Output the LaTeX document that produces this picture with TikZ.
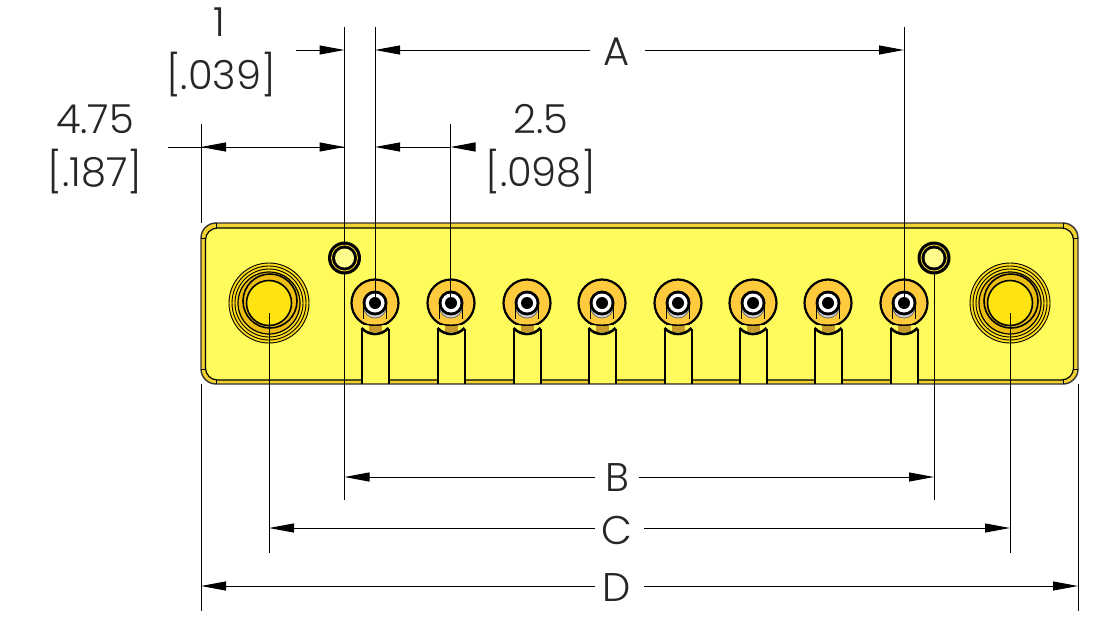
\documentclass[tikz,border=0pt]{standalone}
\usepackage{fontspec}
\setmainfont{Poppins}[UprightFont=* Light]
\usetikzlibrary{arrows.meta}
\definecolor{platecol}{HTML}{FFFB5C}
\definecolor{bandcol}{HTML}{F2D22E}
\definecolor{ringcol}{HTML}{FFDD1E}
\definecolor{ringdark}{HTML}{EDBE12}
\definecolor{studcol}{HTML}{FFE412}
\definecolor{lugcol}{HTML}{FFCB3C}
\definecolor{nutcol}{HTML}{C79A2A}
\tikzset{
 dimline/.style={black, line width=1pt},
 dimtip/.style={-{Triangle[length=25pt,width=9pt]}},
 extline/.style={black, line width=1pt},
 dimlabel/.style={font=\fontsize{40}{40}\selectfont, inner sep=0pt, text=black!85},
 edgeline/.style={black, line width=2pt}
}
% one screw terminal, centre given by the x value
\newcommand{\terminal}[1]{
\fill[platecol] (#1-13.5,330) rectangle (#1+13.5,383);
\draw[edgeline] (#1-13.5,329) -- (#1-13.5,384);
\draw[edgeline] (#1+13.5,329) -- (#1+13.5,384);
\fill[lugcol] (#1,303) circle (23.5);
\draw[black, line width=2.2pt] (#1,303) circle (23.5);
\fill[platecol] (#1-13.5,325) -- (#1+13.5,325) -- (#1+13.5,329) .. controls (#1+6,336) and (#1-6,336) .. (#1-13.5,329) -- cycle;
\fill[nutcol] (#1-6.5,323.5) rectangle (#1+6.5,331.5);
\draw[black, line width=1.4pt] (#1-13,323) .. controls (#1-6,326) and (#1+6,326) .. (#1+13,323);
\draw[black, line width=2.6pt] (#1-13.5,328) .. controls (#1-6,336) and (#1+6,336) .. (#1+13.5,328);
\fill[black!15] (#1,306.5) circle (11.5);
\draw[black!60, line width=.8pt] (#1,306.5) circle (11.5);
\draw[black, line width=1.8pt] (#1-11.5,303) -- (#1-11.5,319);
\draw[black, line width=1.8pt] (#1+11.5,303) -- (#1+11.5,319);
\fill[black] (#1,303) circle (12.5);
\fill[white] (#1,303) circle (9.5);
\fill[black] (#1,303) circle (6);
}
% round stud at the plate ends
\newcommand{\stud}[1]{
\fill[ringcol] (#1,303) circle (40);
\draw[black, line width=.9pt] (#1,303) circle (40);
\draw[black, line width=.9pt] (#1,303) circle (37);
\draw[black, line width=.9pt] (#1,303) circle (34);
\fill[ringdark] (#1,303) circle (31);
\draw[black, line width=1.2pt] (#1,303) circle (31);
\draw[black, line width=1.6pt] (#1+1,301) circle (27);
\fill[studcol] (#1,303) circle (22.5);
\draw[black, line width=1.6pt] (#1,303) circle (22.5);
}
\newcommand{\pinhole}[1]{
\fill[black] (#1,258) circle (16.5);
\draw[ringcol, line width=.8pt] (#1,258) circle (13);
\fill[white!30!platecol] (#1,258) circle (9.5);
}
\begin{document}
\begin{tikzpicture}[x=1pt,y=-1pt]
\useasboundingbox (0,0) rectangle (1100,621);

\fill[bandcol, rounded corners=15pt] (201,223) rectangle (1078,384);
\draw[black!80, line width=1.4pt, rounded corners=15pt] (201,223) rectangle (1078,384);
\fill[platecol, rounded corners=12pt] (205.5,228) rectangle (1073.5,380);
\draw[black, line width=1.2pt, rounded corners=12pt] (205.5,228) rectangle (1073.5,380);
\draw[black, line width=1pt] (216,223) -- (216,228);
\draw[black, line width=1pt] (1063,223) -- (1063,228);
\draw[black, line width=1pt] (216,380) -- (216,384);
\draw[black, line width=1pt] (1063,380) -- (1063,384);
\draw[black, line width=1pt] (201,238) -- (205.5,238);
\draw[black, line width=1pt] (1073.5,238) -- (1078,238);
\draw[black, line width=1pt] (201,369) -- (205.5,369);
\draw[black, line width=1pt] (1073.5,369) -- (1078,369);

\stud{269}
\stud{1010}
\pinhole{344.5}
\pinhole{934}
\terminal{375}
\terminal{451}
\terminal{527}
\terminal{602}
\terminal{678}
\terminal{753}
\terminal{828}
\terminal{904}

\coordinate (holeLeftTop) at (344.5,27);
\coordinate (holeLeftIn) at (344.5,245);
\coordinate (holeLeftOut) at (344.5,272);
\coordinate (holeLeftEnd) at (344.5,500);
\coordinate (holeRightOut) at (934,272);
\coordinate (holeRightEnd) at (934,500);
\coordinate (termOneTop) at (375,27);
\coordinate (termOneIn) at (375,303);
\coordinate (termTwoTop) at (450.5,124);
\coordinate (termTwoIn) at (450.5,303);
\coordinate (termEndTop) at (904,27);
\coordinate (termEndIn) at (904,303);
\coordinate (plateLeftTop) at (201,124);
\coordinate (plateLeftIn) at (201,223);
\coordinate (plateLeftOut) at (201,384);
\coordinate (plateLeftEnd) at (201,611);
\coordinate (plateRightOut) at (1078,384);
\coordinate (plateRightEnd) at (1078,611);
\coordinate (studLeftIn) at (269,313);
\coordinate (studLeftEnd) at (269,553);
\coordinate (studRightIn) at (1010,313);
\coordinate (studRightEnd) at (1010,553);

\draw[extline] (holeLeftTop) -- (holeLeftIn);
\draw[extline] (holeLeftOut) -- (holeLeftEnd);
\draw[extline] (holeRightOut) -- (holeRightEnd);
\draw[extline] (termOneTop) -- (termOneIn);
\draw[extline] (termTwoTop) -- (termTwoIn);
\draw[extline] (termEndTop) -- (termEndIn);
\draw[extline] (plateLeftTop) -- (plateLeftIn);
\draw[extline] (plateLeftOut) -- (plateLeftEnd);
\draw[extline] (plateRightOut) -- (plateRightEnd);
\draw[extline] (studLeftIn) -- (studLeftEnd);
\draw[extline] (studRightIn) -- (studRightEnd);

\node[dimlabel] (labelOne) at (219,22) {1};
\node[dimlabel] (labelOneIn) at (221,75) {[.039]};
\node[dimlabel] (labelFour) at (95,119) {4.75};
\node[dimlabel] (labelFourIn) at (95,172) {[.187]};
\node[dimlabel] (labelTwo) at (541,119) {2.5};
\node[dimlabel] (labelTwoIn) at (541,172) {[.098]};
\node[dimlabel] (labelA) at (617,52) {A};
\node[dimlabel] (labelB) at (617,478) {B};
\node[dimlabel] (labelC) at (617,530) {C};
\node[dimlabel] (labelD) at (617,588) {D};

\coordinate (oneStart) at (296,50);
\coordinate (oneTip) at (344.5,50);
\coordinate (aLeftTip) at (375,50);
\coordinate (aLeftEnd) at (590,50);
\coordinate (aRightEnd) at (645,50);
\coordinate (aRightTip) at (904,50);
\coordinate (fourStart) at (168,147);
\coordinate (fourTip) at (201,147);
\coordinate (fourEnd) at (344.5,147);
\coordinate (twoTip) at (375,147);
\coordinate (twoEnd) at (450.5,147);
\coordinate (twoStart) at (468,147);
\coordinate (bLeftTip) at (344.5,477);
\coordinate (bLeftEnd) at (595,477);
\coordinate (bRightEnd) at (639,477);
\coordinate (bRightTip) at (934,477);
\coordinate (cLeftTip) at (269,528);
\coordinate (cLeftEnd) at (595,528);
\coordinate (cRightEnd) at (644,528);
\coordinate (cRightTip) at (1010,528);
\coordinate (dLeftTip) at (201,586);
\coordinate (dLeftEnd) at (595,586);
\coordinate (dRightEnd) at (644,586);
\coordinate (dRightTip) at (1078,586);

\draw[dimline, dimtip] (oneStart) -- (oneTip);
\draw[dimline, dimtip] (aLeftEnd) -- (aLeftTip);
\draw[dimline, dimtip] (aRightEnd) -- (aRightTip);
\draw[dimline] (fourStart) -- (fourTip);
\draw[dimline, dimtip] (fourEnd) -- (fourTip);
\draw[dimline, dimtip] (fourTip) -- (fourEnd);
\draw[dimline, dimtip] (twoEnd) -- (twoTip);
\draw[dimline, dimtip] (twoStart) -- (twoEnd);
\draw[dimline, dimtip] (bLeftEnd) -- (bLeftTip);
\draw[dimline, dimtip] (bRightEnd) -- (bRightTip);
\draw[dimline, dimtip] (cLeftEnd) -- (cLeftTip);
\draw[dimline, dimtip] (cRightEnd) -- (cRightTip);
\draw[dimline, dimtip] (dLeftEnd) -- (dLeftTip);
\draw[dimline, dimtip] (dRightEnd) -- (dRightTip);
\end{tikzpicture}
\end{document}
